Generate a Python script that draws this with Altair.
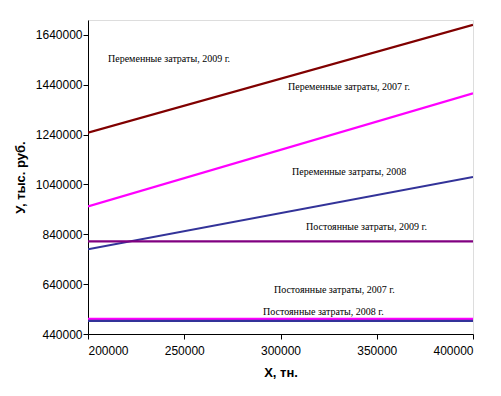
import altair as alt
import pandas as pd

# Series: cost lines (values at X=200000 and X=400000)
x_vals = [200000, 400000]
series_names = [
    "Переменные затраты, 2009 г.",
    "Переменные затраты, 2007 г.",
    "Переменные затраты, 2008",
    "Постоянные затраты, 2009 г.",
    "Постоянные затраты, 2007 г.",
    "Постоянные затраты, 2008 г.",
]
start_vals = [1248000, 952000, 780000, 812000, 501000, 493000]
end_vals = [1681000, 1406000, 1070000, 812000, 501000, 493000]
series_colors = ["#800000", "#FF00FF", "#333399", "#800080", "#FF00FF", "#333399"]

# Annotation labels (data coordinates)
label_texts = series_names
label_x = [210400, 303900, 306000, 313300, 296600, 290900]
label_y = [1543500, 1431200, 1090100, 869400, 616600, 528300]

x_ticks = [200000, 250000, 300000, 350000, 400000]
y_ticks = [440000, 640000, 840000, 1040000, 1240000, 1440000, 1640000]

rows = []
for name, s, e in zip(series_names, start_vals, end_vals):
    rows.append({"series": name, "x": x_vals[0], "y": s})
    rows.append({"series": name, "x": x_vals[1], "y": e})
df = pd.DataFrame(rows)
labels = pd.DataFrame({"text": label_texts, "x": label_x, "y": label_y})

xscale = alt.Scale(domain=[200000, 400000], nice=False, zero=False)
yscale = alt.Scale(domain=[440000, 1700000], nice=False, zero=False)

lines = alt.Chart(df).mark_line(strokeWidth=2.2, clip=True).encode(
    x=alt.X("x:Q", scale=xscale, axis=alt.Axis(
        title="X, тн.", values=x_ticks, format="d", grid=False,
        domainColor="black", tickColor="black", tickSize=5,
        labelFont="Liberation Sans", labelFontSize=12, labelColor="black",
        labelPadding=6, titleFont="Liberation Sans", titleFontSize=13,
        titleFontWeight="bold", titleColor="black", titlePadding=10)),
    y=alt.Y("y:Q", scale=yscale, axis=alt.Axis(
        title="У, тыс. руб.", values=y_ticks, format="d", grid=False,
        domainColor="black", tickColor="black", tickSize=5,
        labelFont="Liberation Sans", labelFontSize=12, labelColor="black",
        labelPadding=1, titleFont="Liberation Sans", titleFontSize=13,
        titleFontWeight="bold", titleColor="black", titlePadding=8)),
    color=alt.Color("series:N", scale=alt.Scale(domain=series_names, range=series_colors), legend=None),
    detail="series:N",
)

texts = alt.Chart(labels).mark_text(
    align="left", baseline="middle", font="Liberation Serif", fontSize=10, color="black"
).encode(
    x=alt.X("x:Q", scale=xscale),
    y=alt.Y("y:Q", scale=yscale),
    text="text:N",
)

chart = alt.layer(lines, texts).properties(
    width=385, height=314,
    autosize=alt.AutoSizeParams(type="none"),
    padding={"left": 80, "top": 12, "right": 20, "bottom": 54},
).configure_view(stroke="#808080", strokeWidth=1).configure(background="white")

chart.save("out.html", embed_options={"renderer": "svg", "actions": False})
